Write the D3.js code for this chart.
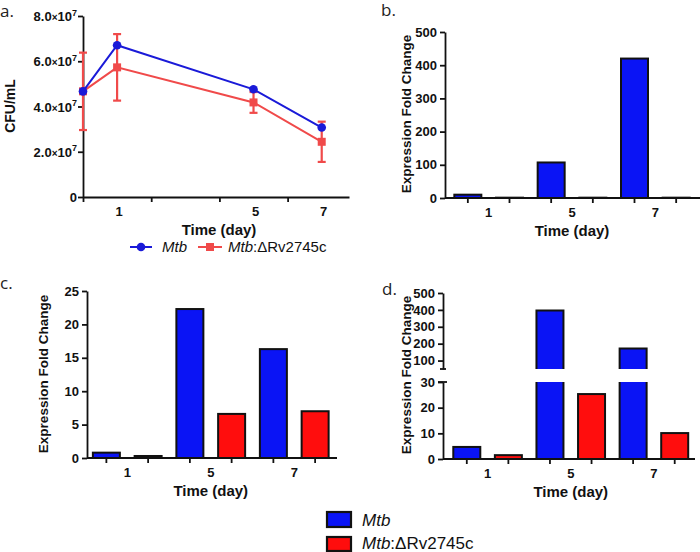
<!DOCTYPE html>
<html><head><meta charset="utf-8">
<script src="https://cdn.jsdelivr.net/npm/d3@7"></script>
<style>
body{margin:0;background:#fff;}
svg{display:block;}
text{font-family:"Liberation Sans",Arial,sans-serif !important;}
text.pl{font-family:"Open Sans",sans-serif !important;}
.tick text{font-weight:bold;fill:#111;}
</style></head>
<body><svg id="c" width="700" height="552"></svg>
<script>
// ---- data ----
const days = [0, 1, 5, 7];
const cfuMtb = [4.67e7, 6.71e7, 4.76e7, 3.07e7];
const cfuMut = [4.67e7, 5.73e7, 4.18e7, 2.44e7];
const cfuMutErr = [1.71e7, 1.47e7, 0.46e7, 0.89e7];
const dayLabels = ["1", "5", "7"];
const seriesNames = ["Mtb", "Mut"];
const bMtb = [10, 107, 420], bMut = [1, 1, 1];
const cMtb = [0.8, 22.3, 16.3], cMut = [0.3, 6.6, 7.0];
const dMtb = [4.7, 397, 172], dMut = [1.5, 25.3, 10.1];
const aYTicks = [0, 2e7, 4e7, 6e7, 8e7];
const bYTicks = [0, 100, 200, 300, 400, 500];
const cYTicks = [0, 5, 10, 15, 20, 25];
const dUpperTicks = [100, 200, 300, 400, 500];
const dLowerTicks = [0, 10, 20, 30];

const BLUE = "#0a14f5", RED = "#ff0d0d";
const LBLUE = "#1a1ad8", LRED = "#f04a4a";
const svg = d3.select("#c");
const AX = 1.8;

function styleAxis(g){
  g.attr("font-family", null);
  g.select(".domain").attr("stroke","#111").attr("stroke-width",AX);
  g.selectAll(".tick line").attr("stroke","#111").attr("stroke-width",AX);
  g.selectAll(".tick text").attr("font-size",13).attr("font-weight","bold").attr("fill","#111");
}
function panelLabel(t,x,y){
  svg.append("text").attr("class","pl").attr("x",x).attr("y",y)
    .attr("font-size",17).attr("fill","#222").text(t);
}
function yTitle(t,x,y,fs){
  svg.append("text").attr("transform",`translate(${x},${y}) rotate(-90)`)
    .attr("text-anchor","middle").attr("font-weight","bold").attr("font-size",fs).attr("fill","#111").text(t);
}
function xTitle(x,y){
  svg.append("text").attr("x",x).attr("y",y).attr("text-anchor","middle")
    .attr("font-weight","bold").attr("font-size",15).attr("fill","#111").text("Time (day)");
}

// ---------- Panel a ----------
{
  const x = d3.scaleLinear().domain([0,7.8]).range([83,349]);
  const y = d3.scaleLinear().domain([0,8e7]).range([197,16]);
  const gy = svg.append("g").attr("transform","translate(83,0)")
    .call(d3.axisLeft(y).tickValues(aYTicks).tickSize(5).tickSizeOuter(0).tickFormat(()=>""));
  styleAxis(gy);
  gy.selectAll(".tick").each(function(d){
    const t = d3.select(this).append("text").attr("x",-6).attr("dy","0.35em")
      .attr("text-anchor","end").attr("font-size",13).attr("font-weight","bold").attr("fill","#111");
    if(d===0){ t.text("0"); }
    else {
      t.append("tspan").text((d/1e7).toFixed(1));
      t.append("tspan").attr("font-size",10).text("\u00d7");
      t.append("tspan").text("10");
      t.append("tspan").attr("font-size",9).attr("dy","-0.6em").text("7");
    }
  });
  const gx = svg.append("g").attr("transform","translate(0,197)")
    .call(d3.axisBottom(x).tickValues([0,2,4,6]).tickSize(5).tickSizeOuter(0).tickFormat(()=>""));
  styleAxis(gx);
  svg.append("g").selectAll("text").data(dayLabels).join("text")
    .attr("x",d=>x(+d)+2).attr("y",216).attr("text-anchor","middle")
    .attr("font-weight","bold").attr("font-size",13).attr("fill","#111").text(d=>d);
  yTitle("CFU/mL",15,106,14);
  xTitle(219,235);
  panelLabel("a.",0,17);

  const line = d3.line().x((d,i)=>x(days[i])).y(d=>y(d));
  svg.append("path").attr("d",line(cfuMut)).attr("fill","none").attr("stroke",LRED).attr("stroke-width",2);
  const eg = svg.append("g").attr("stroke",LRED).attr("stroke-width",2.2);
  cfuMut.forEach((v,i)=>{
    const cx=x(days[i]), y1=y(v+cfuMutErr[i]), y2=y(v-cfuMutErr[i]);
    eg.append("line").attr("x1",cx).attr("x2",cx).attr("y1",y1).attr("y2",y2);
    eg.append("line").attr("x1",cx-4).attr("x2",cx+4).attr("y1",y1).attr("y2",y1);
    eg.append("line").attr("x1",cx-4).attr("x2",cx+4).attr("y1",y2).attr("y2",y2);
  });
  svg.append("g").selectAll("rect").data(cfuMut).join("rect")
    .attr("x",(d,i)=>x(days[i])-4).attr("y",d=>y(d)-4).attr("width",8).attr("height",8).attr("fill",LRED);
  svg.append("path").attr("d",line(cfuMtb)).attr("fill","none").attr("stroke",LBLUE).attr("stroke-width",2);
  svg.append("g").selectAll("circle").data(cfuMtb).join("circle")
    .attr("cx",(d,i)=>x(days[i])).attr("cy",d=>y(d)).attr("r",4.3).attr("fill",LBLUE);

  const lg = svg.append("g");
  lg.append("line").attr("x1",130).attr("x2",152).attr("y1",247).attr("y2",247).attr("stroke",LBLUE).attr("stroke-width",2);
  lg.append("circle").attr("cx",141).attr("cy",247).attr("r",4.3).attr("fill",LBLUE);
  lg.append("text").attr("x",162).attr("y",252).attr("font-size",15).attr("font-style","italic").attr("fill","#111").text("Mtb");
  lg.append("line").attr("x1",198).attr("x2",222).attr("y1",247).attr("y2",247).attr("stroke",LRED).attr("stroke-width",2);
  lg.append("rect").attr("x",206).attr("y",243).attr("width",8).attr("height",8).attr("fill",LRED);
  const t2 = lg.append("text").attr("x",228).attr("y",252).attr("font-size",15).attr("fill","#111");
  t2.append("tspan").attr("font-style","italic").text("Mtb");
  t2.append("tspan").text(":\u0394Rv2745c");
}

// ---------- generic bar panel ----------
function barPanel(o){
  const xg = d3.scaleBand().domain(dayLabels).range(o.xr).padding(0);
  const xs = d3.scalePoint().domain(seriesNames).range([0,xg.bandwidth()]).padding(0.5);
  const bw = 27;
  const gx = svg.append("g").attr("transform",`translate(0,${o.base})`);
  gx.append("line").attr("x1",o.ax).attr("x2",o.xend).attr("y1",0).attr("y2",0).attr("stroke","#111").attr("stroke-width",AX);
  dayLabels.forEach(d=>seriesNames.forEach(s=>{
    const cx = xg(d)+xs(s);
    gx.append("line").attr("x1",cx).attr("x2",cx).attr("y1",0).attr("y2",5).attr("stroke","#111").attr("stroke-width",AX);
  }));
  gx.selectAll("text").data(dayLabels).join("text")
    .attr("x",d=>xg(d)+xg.bandwidth()/2).attr("y",19).attr("text-anchor","middle")
    .attr("font-weight","bold").attr("font-size",13).attr("fill","#111").text(d=>d);
  xTitle(o.xr[0]+ (o.xr[1]-o.xr[0])/2, o.base+38);
  return {xg,xs,bw};
}

// ---------- Panel b ----------
{
  const base=198;
  const y = d3.scaleLinear().domain([0,500]).range([base,32]);
  const {xg,xs,bw} = barPanel({xr:[447,697],base,ax:445,xend:700});
  [[bMtb,"Mtb",BLUE],[bMut,"Mut",RED]].forEach(([vals,s,c])=>{
    svg.append("g").selectAll("rect").data(vals).join("rect")
      .attr("x",(d,i)=>xg(dayLabels[i])+xs(s)-bw/2).attr("y",d=>y(d)).attr("width",bw)
      .attr("height",d=>base-y(d)).attr("fill",c).attr("stroke","#111").attr("stroke-width",2);
  });
  const gy = svg.append("g").attr("transform","translate(445,0)")
    .call(d3.axisLeft(y).tickValues(bYTicks).tickSize(5).tickSizeOuter(0));
  styleAxis(gy);
  yTitle("Expression Fold Change",411,114,13.5);
  panelLabel("b.",381,16);
}

// ---------- Panel c ----------
{
  const base=458;
  const y = d3.scaleLinear().domain([0,25]).range([base,291]);
  const {xg,xs,bw} = barPanel({xr:[85.5,336],base,ax:87,xend:337});
  [[cMtb,"Mtb",BLUE],[cMut,"Mut",RED]].forEach(([vals,s,c])=>{
    svg.append("g").selectAll("rect").data(vals).join("rect")
      .attr("x",(d,i)=>xg(dayLabels[i])+xs(s)-bw/2).attr("y",d=>y(d)).attr("width",bw)
      .attr("height",d=>base-y(d)).attr("fill",c).attr("stroke","#111").attr("stroke-width",2);
  });
  const gy = svg.append("g").attr("transform","translate(87,0)")
    .call(d3.axisLeft(y).tickValues(cYTicks).tickSize(5).tickSizeOuter(0));
  styleAxis(gy);
  yTitle("Expression Fold Change",48,374,13.5);
  panelLabel("c.",0,289);
}

// ---------- Panel d (broken axis) ----------
{
  const base=459;
  const yl = d3.scaleLinear().domain([0,30]).range([base,382]);
  const yu = d3.scaleLinear().domain([50,500]).range([369,293]);
  const {xg,xs,bw} = barPanel({xr:[446,695.5],base,ax:443,xend:695});
  [[dMtb,"Mtb",BLUE],[dMut,"Mut",RED]].forEach(([vals,s,c])=>{
    const g = svg.append("g");
    vals.forEach((v,i)=>{
      const x0 = xg(dayLabels[i])+xs(s)-bw/2, x1 = x0+bw;
      if(v<=30){
        g.append("rect").attr("x",x0).attr("y",yl(v)).attr("width",bw).attr("height",base-yl(v))
          .attr("fill",c).attr("stroke","#111").attr("stroke-width",2);
      } else {
        g.append("path").attr("d",`M${x0},${yl(30)}L${x0},${base}L${x1},${base}L${x1},${yl(30)}`)
          .attr("fill",c).attr("stroke","#111").attr("stroke-width",2);
        g.append("path").attr("d",`M${x0},${yu(50)}L${x0},${yu(v)}L${x1},${yu(v)}L${x1},${yu(50)}`)
          .attr("fill",c).attr("stroke","#111").attr("stroke-width",2);
      }
    });
  });
  const gyu = svg.append("g").attr("transform","translate(443,0)")
    .call(d3.axisLeft(yu).tickValues(dUpperTicks).tickSize(5).tickSizeOuter(0));
  styleAxis(gyu);
  const gyl = svg.append("g").attr("transform","translate(443,0)")
    .call(d3.axisLeft(yl).tickValues(dLowerTicks).tickSize(5).tickSizeOuter(0));
  styleAxis(gyl);
  svg.append("line").attr("x1",440).attr("x2",446).attr("y1",yu(50)).attr("y2",yu(50)).attr("stroke","#111").attr("stroke-width",AX);
  svg.append("line").attr("x1",438).attr("x2",447).attr("y1",yl(30)).attr("y2",yl(30)).attr("stroke","#111").attr("stroke-width",AX);
  yTitle("Expression Fold Change",411,375,13.5);
  panelLabel("d.",382,295);
}

// ---------- bottom legend ----------
{
  const lg = svg.append("g");
  lg.append("rect").attr("x",327).attr("y",512).attr("width",24).attr("height",15).attr("fill",BLUE).attr("stroke","#111").attr("stroke-width",2.2);
  lg.append("text").attr("x",362).attr("y",526).attr("font-size",17).attr("font-style","italic").attr("fill","#111").text("Mtb");
  lg.append("rect").attr("x",327).attr("y",537).attr("width",24).attr("height",14).attr("fill",RED).attr("stroke","#111").attr("stroke-width",2.2);
  const t = lg.append("text").attr("x",362).attr("y",549).attr("font-size",17).attr("fill","#111");
  t.append("tspan").attr("font-style","italic").text("Mtb");
  t.append("tspan").text(":\u0394Rv2745c");
}
</script></body></html>
